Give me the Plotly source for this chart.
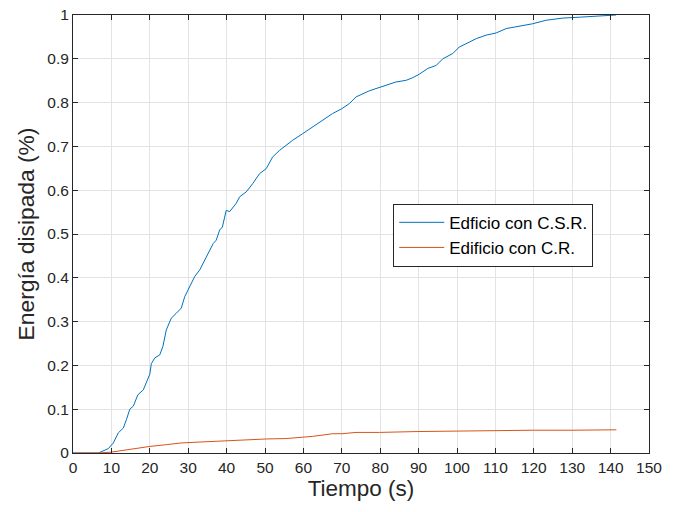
import plotly.graph_objects as go

# Edificio con C.S.R.
t_csr = [0, 6.6, 9.2, 10.5, 11.8, 13.1, 13.9, 14.8, 15.7, 16.9, 18.3, 19.1, 20.0, 20.4, 21.3,
         22.6, 23.4, 24.3, 25.6, 26.9, 28.2, 29.1, 30.4, 31.7, 33.0, 33.9, 35.2, 36.5, 37.3, 38.2,
         38.9, 39.9, 40.8, 42.5, 43.4, 45.1, 46.8, 48.6, 50.3, 52.0, 53.8, 55.5, 57.2, 59.8, 62.4,
         65.0, 67.6, 70.0, 72.0, 73.7, 75.5, 77.2, 78.9, 81.5, 84.1, 86.8, 88.5, 90.2, 92.4, 94.6,
         96.3, 98.9, 100.6, 103.2, 105.0, 107.6, 110.2, 112.8, 116.3, 119.7, 123.2, 127.6, 131.9, 136.2, 141.4]
e_csr = [0, 0, 0.01, 0.023, 0.046, 0.057, 0.076, 0.1, 0.107, 0.133, 0.144, 0.16, 0.18, 0.204, 0.217,
         0.224, 0.243, 0.281, 0.308, 0.319, 0.331, 0.357, 0.38, 0.403, 0.418, 0.433, 0.456, 0.478, 0.486, 0.509,
         0.516, 0.554, 0.551, 0.57, 0.585, 0.596, 0.615, 0.638, 0.649, 0.676, 0.691, 0.703, 0.714, 0.729, 0.745,
         0.76, 0.775, 0.786, 0.798, 0.813, 0.821, 0.827, 0.832, 0.84, 0.847, 0.851, 0.857, 0.865, 0.878, 0.885,
         0.9, 0.912, 0.927, 0.938, 0.946, 0.954, 0.959, 0.969, 0.974, 0.98, 0.988, 0.993, 0.995, 0.998, 1.0]

# Edificio con C.R.
t_cr = [0, 6.6, 10, 13.1, 16.5, 20, 24.3, 28.2, 33, 39.9, 46, 50.3, 55.5, 60, 62.4, 67.6, 70,
        73.7, 79.8, 89.8, 99.8, 110.2, 119.9, 130, 141.5]
e_cr = [0, 0, 0.002, 0.006, 0.012, 0.015, 0.019, 0.023, 0.025, 0.028, 0.030, 0.032, 0.033, 0.036,
        0.038, 0.044, 0.044, 0.047, 0.047, 0.049, 0.050, 0.052, 0.052, 0.052, 0.053]

x_ticks = list(range(0, 151, 10))
y_ticks = [0, 0.1, 0.2, 0.3, 0.4, 0.5, 0.6, 0.7, 0.8, 0.9, 1]
y_tick_labels = ["0", "0.1", "0.2", "0.3", "0.4", "0.5", "0.6", "0.7", "0.8", "0.9", "1"]

FONT = "Liberation Sans, Arial, Helvetica, sans-serif"
AX = "#262626"

fig = go.Figure()
fig.add_trace(go.Scatter(x=t_csr, y=e_csr, mode="lines", name="Edficio con C.S.R.",
                         line=dict(color="#0072BD", width=1)))
fig.add_trace(go.Scatter(x=t_cr, y=e_cr, mode="lines", name="Edificio con C.R.",
                         line=dict(color="#D95319", width=1)))

axis_common = dict(
    showline=True, linecolor=AX, linewidth=1, mirror="ticks",
    ticks="inside", ticklen=5, tickwidth=1, tickcolor=AX,
    showgrid=True, gridcolor="#e3e3e3", gridwidth=1, zeroline=False,
    tickfont=dict(family=FONT, size=15.5, color=AX),
    automargin=False, ticklabeloverflow="allow",
)

fig.update_xaxes(range=[0, 150], tickvals=x_ticks, ticktext=[str(v) for v in x_ticks],
                 title=dict(text="Tiempo (s)", font=dict(family=FONT, size=22.5, color=AX), standoff=5),
                 **axis_common)
fig.update_yaxes(range=[0, 1], tickvals=y_ticks, ticktext=y_tick_labels,
                 title=dict(text="Energía disipada (%)", font=dict(family=FONT, size=22.8, color=AX), standoff=6),
                 **axis_common)

fig.update_layout(
    width=674, height=512,
    margin=dict(l=73, r=25, t=15, b=59),
    plot_bgcolor="white", paper_bgcolor="white",
    font=dict(family=FONT, color=AX),
    legend=dict(x=0.556, y=0.569, xanchor="left", yanchor="top",
                bgcolor="white", bordercolor=AX, borderwidth=1,
                font=dict(family=FONT, size=17, color="#000000"),
                itemwidth=45, tracegroupgap=0),
    showlegend=True,
)

fig.write_html("out.html",
               config={"displayModeBar": False},
               post_script="document.body.style.margin='0';document.body.style.overflow='hidden';")
